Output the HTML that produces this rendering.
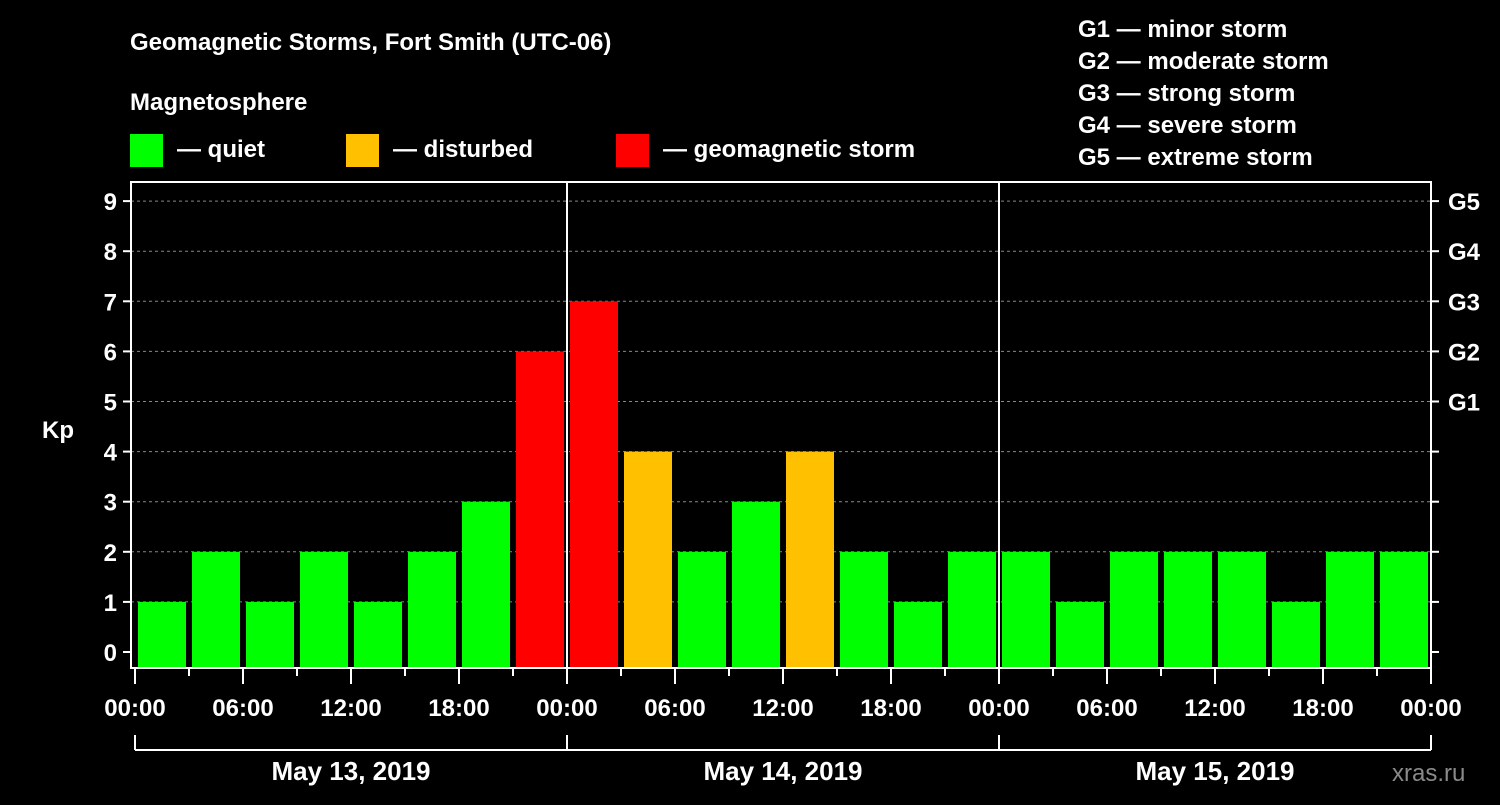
<!DOCTYPE html>
<html><head><meta charset="utf-8"><style>
body{margin:0;background:#000;width:1500px;height:800px;overflow:hidden}
text{font-family:"Liberation Sans",Arial,sans-serif;font-weight:bold;fill:#fff}
</style></head><body>
<svg id="chart" width="1500" height="800" xmlns="http://www.w3.org/2000/svg">
<rect width="1500" height="800" fill="#000"/>
<text x="130" y="50" font-size="24">Geomagnetic Storms, Fort Smith (UTC-06)</text>
<text x="130" y="110" font-size="24">Magnetosphere</text>
<rect x="130" y="134" width="33" height="33" fill="#00ff00"/>
<text x="177" y="157" font-size="24">— quiet</text>
<rect x="346" y="134" width="33" height="33" fill="#ffc000"/>
<text x="393" y="157" font-size="24">— disturbed</text>
<rect x="616" y="134" width="33" height="33" fill="#ff0000"/>
<text x="663" y="157" font-size="24">— geomagnetic storm</text>
<g font-size="24">
<text x="1078" y="37">G1 — minor storm</text>
<text x="1078" y="69">G2 — moderate storm</text>
<text x="1078" y="101">G3 — strong storm</text>
<text x="1078" y="133">G4 — severe storm</text>
<text x="1078" y="165">G5 — extreme storm</text>
</g>
<text x="42" y="438" font-size="24">Kp</text>
<text x="1392" y="781" font-size="24" fill="#888" style="fill:#8a8a8a;font-weight:normal">xras.ru</text>
<g id="plot"></g>
</svg>
<script>
const values=[1,2,1,2,1,2,3,6,7,4,2,3,4,2,1,2,2,1,2,2,2,1,2,2];
const yTicks=[0,1,2,3,4,5,6,7,8,9];
const gLabels=["G1","G2","G3","G4","G5"];
const xLabels=["00:00","06:00","12:00","18:00","00:00","06:00","12:00","18:00","00:00","06:00","12:00","18:00","00:00"];
const days=["May 13, 2019","May 14, 2019","May 15, 2019"];
const NS="http://www.w3.org/2000/svg";
const L=131,R=1431,T=182,B=668,x0=135,step=54;
const y=v=>652-50.1*v;
const x=i=>x0+i*step;
const g=document.getElementById('plot');
function mk(t,a,p){const e=document.createElementNS(NS,t);for(const k in a)e.setAttribute(k,a[k]);(p||g).appendChild(e);return e;}
yTicks.forEach(v=>{
 if(v>0){const gl=mk('line',{x1:L,x2:R,y1:y(v),y2:y(v),stroke:'#888','stroke-dasharray':'3,3','stroke-width':1});
 
 }
});
values.forEach((v,i)=>{
 const c=v>=5?'#ff0000':(v>=4?'#ffc000':'#00ff00');
 const r=mk('rect',{x:x(i)+3,y:y(v),width:48,height:B-y(v),fill:c});
 
 
});
[1,2].forEach(d=>{const l=mk('line',{x1:x(d*8),x2:x(d*8),y1:T,y2:B,stroke:'#fff','stroke-width':2});
 
 });
const fr=mk('rect',{x:L,y:T,width:R-L,height:B-T,fill:'none',stroke:'#fff','stroke-width':2});


yTicks.forEach(v=>{
 mk('line',{x1:L-8,x2:L,y1:y(v),y2:y(v),stroke:'#fff','stroke-width':2});
 mk('line',{x1:R,x2:R+8,y1:y(v),y2:y(v),stroke:'#fff','stroke-width':2});
 const t=mk('text',{x:L-14,y:y(v)+9,'font-size':24,'text-anchor':'end'});t.textContent=v;
 
 
});
gLabels.forEach((s,i)=>{const t=mk('text',{x:1448,y:y(i+5)+9,'font-size':24});t.textContent=s;
 
 });
for(let i=0;i<=24;i++){
 const maj=i%2==0;
 mk('line',{x1:x(i),x2:x(i),y1:B,y2:B+(maj?16:8),stroke:'#fff','stroke-width':2});
}
xLabels.forEach((s,i)=>{const t=mk('text',{x:x(i*2),y:716,'font-size':24,'text-anchor':'middle'});t.textContent=s;
 
 });
mk('line',{x1:x(0),x2:x(24),y1:750,y2:750,stroke:'#fff','stroke-width':2});
for(let d=0;d<=3;d++)mk('line',{x1:x(d*8),x2:x(d*8),y1:735,y2:750,stroke:'#fff','stroke-width':2});
days.forEach((s,d)=>{const t=mk('text',{x:x(d*8+4),y:780,'font-size':26,'text-anchor':'middle'});t.textContent=s;
 
 });
</script>
</body></html>
